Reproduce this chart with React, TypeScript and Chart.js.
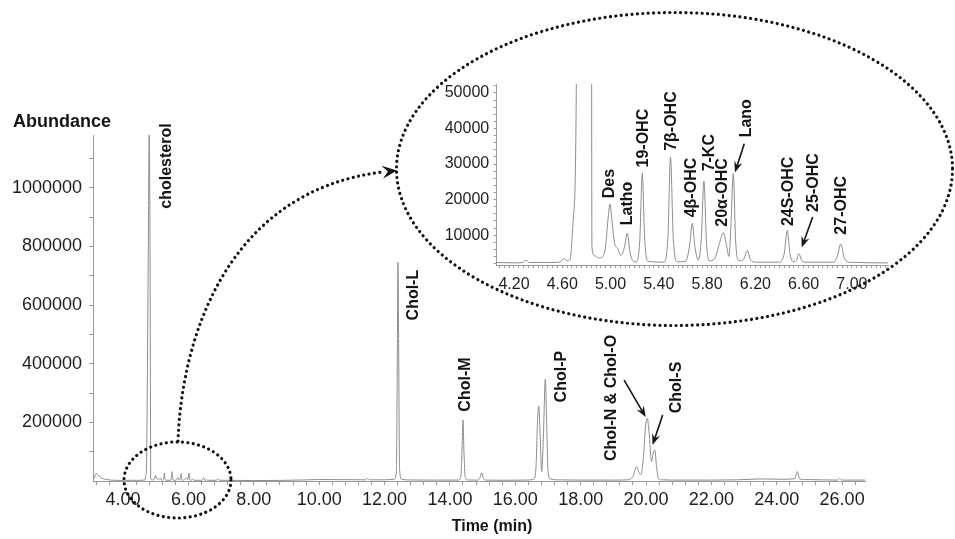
import React, { useEffect, useRef } from 'react';
import { Chart, registerables } from 'chart.js';

Chart.register(...registerables);

const FONT = '"Liberation Sans", Arial, Helvetica, sans-serif';

type Pt = [number, number];

// ---- chromatogram trace: [retention time (min), abundance] ----
const solventFront: Pt[] = [
  [3.08, 3000], [3.13, 14000], [3.18, 26000], [3.25, 19000], [3.35, 10000],
  [3.5, 5000], [3.7, 2500], [3.9, 2000],
];

const sterolRegion: Pt[] = [
  [4.05, 2300], [4.2, 2200], [4.27, 2300], [4.297, 2900], [4.33, 2300], [4.5, 2300],
  [4.58, 2400], [4.617, 3400], [4.64, 2800], [4.665, 3200], [4.69, 14000], [4.715, 45000],
  [4.74, 300000], [4.77, 760000], [4.8, 1180000], [4.825, 800000], [4.84, 200000],
  [4.846, 6600], [4.87, 4200], [4.9, 3600], [4.93, 3800], [4.96, 7000], [4.978, 14000],
  [4.995, 18700], [5.012, 14000], [5.035, 7500], [5.058, 6300], [5.085, 4300],
  [5.115, 6500], [5.139, 10600], [5.16, 5500], [5.19, 2600], [5.215, 2500], [5.243, 9000],
  [5.263, 27400], [5.283, 9000], [5.31, 2600], [5.44, 2400], [5.475, 9000], [5.497, 31900],
  [5.52, 9000], [5.555, 2500], [5.62, 2600], [5.655, 7000], [5.677, 13300], [5.7, 6500],
  [5.728, 3000], [5.752, 9000], [5.774, 25200], [5.795, 8000], [5.818, 2800], [5.86, 3200],
  [5.905, 8000], [5.934, 10700], [5.962, 7000], [5.981, 4000], [5.998, 13000], [6.017, 27300],
  [6.037, 8000], [6.065, 2800], [6.105, 3300], [6.133, 5700], [6.16, 3000], [6.2, 2400],
  [6.4, 2400], [6.44, 5000], [6.464, 11300], [6.488, 4500], [6.515, 2500], [6.54, 2800],
  [6.561, 4800], [6.585, 2800], [6.62, 2400], [6.85, 2400], [6.88, 4200], [6.907, 7500],
  [6.935, 3800], [6.97, 2400], [7.3, 2200],
];

const midBaseline: Pt[] = [
  [7.5, 2000], [8.0, 1500], [8.8, 2000], [9.5, 3500], [10.0, 5000], [10.8, 4500],
  [11.42, 4000], [11.48, 9000], [11.54, 4000], [12.0, 4000],
];

const cholLRegion: Pt[] = [
  [12.3, 6000], [12.36, 30000], [12.39, 400000], [12.41, 746000], [12.43, 500000],
  [12.46, 40000], [12.52, 6000], [12.8, 3500], [13.5, 3000],
];

const cholMRegion: Pt[] = [
  [14.25, 3000], [14.33, 12000], [14.37, 100000], [14.4, 208000], [14.43, 100000],
  [14.47, 12000], [14.55, 3500], [14.85, 3000], [14.92, 11000], [14.97, 28000],
  [15.02, 11000], [15.1, 3000], [15.6, 2500],
];

const cholPRegion: Pt[] = [
  [16.3, 3000], [16.55, 5000], [16.63, 40000], [16.68, 200000], [16.72, 256000],
  [16.76, 160000], [16.81, 32000], [16.86, 150000], [16.92, 348000], [16.96, 200000],
  [17.0, 40000], [17.06, 8000], [17.3, 4000], [18.0, 3000], [19.0, 3000],
];

const cholNOSRegion: Pt[] = [
  [19.45, 4000], [19.6, 15000], [19.71, 49000], [19.79, 28000], [19.84, 21000],
  [19.92, 80000], [19.98, 180000], [20.04, 214000], [20.09, 170000], [20.17, 66000],
  [20.22, 95000], [20.27, 106000], [20.32, 50000], [20.38, 8000], [20.5, 4000],
];

const lateBaseline: Pt[] = [
  [21.0, 3000], [22.0, 3000], [22.8, 4000], [23.5, 7000], [24.2, 6000], [24.55, 8000],
  [24.63, 32000], [24.7, 8000], [24.85, 5000], [25.4, 4000], [25.85, 3000], [25.93, 9000],
  [26.0, 3000], [26.7, 3000],
];

// ---- axes ----
const mainXRange: Pt = [3.08, 26.7];
const mainYRange: Pt = [0, 1180000];
const mainXTickLabels = [4, 6, 8, 10, 12, 14, 16, 18, 20, 22, 24, 26];
const mainYTickLabels = [200000, 400000, 600000, 800000, 1000000];
const mainXMinor = { from: 3.2, to: 26.4, step: 0.4 };
const mainYMinor = { from: 100000, to: 1100000, step: 100000 };

const insetXRange: Pt = [4.057, 7.299];
const insetYRange: Pt = [1600, 52500];
const insetXTickLabels = [4.2, 4.6, 5.0, 5.4, 5.8, 6.2, 6.6, 7.0];
const insetYTickLabels = [10000, 20000, 30000, 40000, 50000];
const insetXMinor = { from: 4.08, to: 7.28, step: 0.04 };
const insetYMinor = { from: 2000, to: 52000, step: 2000 };

// ---- annotations (label centre in data coordinates) ----
const mainPeakLabels = [
  { text: 'cholesterol', time: 5.34, abundance: 1074000 },
  { text: 'Chol-L', time: 12.9, abundance: 634000 },
  { text: 'Chol-M', time: 14.48, abundance: 329000 },
  { text: 'Chol-P', time: 17.41, abundance: 356000 },
  { text: 'Chol-N & Chol-O', time: 18.94, abundance: 283000 },
  { text: 'Chol-S', time: 20.95, abundance: 319000 },
];
const mainPeakArrows = [
  { from: [19.33, 344000], to: [19.99, 218000] },
  { from: [20.51, 225000], to: [20.2, 123000] },
];

const insetPeakLabels = [
  { text: 'Des', time: 4.996, abundance: 24500 },
  { text: 'Latho', time: 5.145, abundance: 18900 },
  { text: '19-OHC', time: 5.273, abundance: 37300 },
  { text: '7β-OHC', time: 5.509, abundance: 42100 },
  { text: '4β-OHC', time: 5.675, abundance: 23400 },
  { text: '7-KC', time: 5.824, abundance: 33200 },
  { text: '20α-OHC', time: 5.932, abundance: 22000 },
  { text: 'Lano', time: 6.131, abundance: 42900 },
  { text: '24S-OHC', time: 6.479, abundance: 22300 },
  { text: '25-OHC', time: 6.686, abundance: 24800 },
  { text: '27-OHC', time: 6.918, abundance: 18400 },
];
const insetPeakArrows = [
  { from: [6.108, 35750], to: [6.031, 27650] },
  { from: [6.675, 15090], to: [6.584, 6540] },
];

const trace: Pt[] = [
  ...solventFront, ...sterolRegion, ...midBaseline, ...cholLRegion, ...cholMRegion,
  ...cholPRegion, ...cholNOSRegion, ...lateBaseline,
];

function minorTicks(m: { from: number; to: number; step: number }) {
  const out: number[] = [];
  const n = Math.round((m.to - m.from) / m.step);
  for (let i = 0; i <= n; i++) out.push(Math.round((m.from + i * m.step) * 10000) / 10000);
  return out;
}

function isLabel(list: number[], v: number) {
  return list.some((l) => Math.abs(l - v) < 1e-6 * Math.max(1, Math.abs(l)));
}

function drawArrow(ctx: CanvasRenderingContext2D, x1: number, y1: number, x2: number, y2: number, len = 11, half = 4.2) {
  const a = Math.atan2(y2 - y1, x2 - x1);
  const c = Math.cos(a);
  const s = Math.sin(a);
  ctx.beginPath();
  ctx.moveTo(x1, y1);
  ctx.lineTo(x2 - c * len * 0.6, y2 - s * len * 0.6);
  ctx.stroke();
  ctx.beginPath();
  ctx.moveTo(x2, y2);
  ctx.lineTo(x2 - len * c + half * s, y2 - len * s - half * c);
  ctx.lineTo(x2 - 0.65 * len * c, y2 - 0.65 * len * s);
  ctx.lineTo(x2 - len * c - half * s, y2 - len * s + half * c);
  ctx.closePath();
  ctx.fill();
}

function drawVerticalText(ctx: CanvasRenderingContext2D, text: string, x: number, y: number) {
  ctx.save();
  ctx.translate(x, y);
  ctx.rotate(-Math.PI / 2);
  ctx.textAlign = 'center';
  ctx.textBaseline = 'middle';
  ctx.fillText(text, 0, 0);
  ctx.restore();
}

function setDotted(ctx: CanvasRenderingContext2D) {
  ctx.setLineDash([0.01, 5.4]);
  ctx.lineCap = 'round';
  ctx.lineWidth = 3.2;
  ctx.strokeStyle = '#111';
}

const mainDecor = {
  id: 'mainDecor',
  afterDraw(chart: any) {
    const { ctx, scales } = chart;
    const xs = scales.x;
    const ys = scales.y;
    ctx.save();
    ctx.fillStyle = '#151515';
    ctx.strokeStyle = '#151515';
    ctx.font = `bold 16px ${FONT}`;
    mainPeakLabels.forEach((l) => drawVerticalText(ctx, l.text, xs.getPixelForValue(l.time), ys.getPixelForValue(l.abundance)));
    ctx.lineWidth = 1.6;
    mainPeakArrows.forEach((a) =>
      drawArrow(ctx, xs.getPixelForValue(a.from[0]), ys.getPixelForValue(a.from[1]), xs.getPixelForValue(a.to[0]), ys.getPixelForValue(a.to[1]))
    );
    // axis titles
    ctx.font = `bold 18px ${FONT}`;
    ctx.textAlign = 'left';
    ctx.textBaseline = 'alphabetic';
    ctx.fillText('Abundance', 13, 126.5);
    ctx.font = `bold 16px ${FONT}`;
    ctx.textAlign = 'center';
    ctx.fillText('Time (min)', 492, 531);

    // dotted ellipses and connector
    setDotted(ctx);
    ctx.beginPath();
    ctx.ellipse(674.5, 169, 278, 156.5, 0, 0, Math.PI * 2);
    ctx.stroke();
    ctx.beginPath();
    ctx.ellipse(177.5, 480, 53.5, 38, 0, 0, Math.PI * 2);
    ctx.stroke();
    ctx.beginPath();
    ctx.moveTo(178, 441);
    ctx.bezierCurveTo(182, 330, 232, 190, 383, 172);
    ctx.stroke();
    ctx.setLineDash([]);
    ctx.fillStyle = '#111';
    const tipX = 397;
    const tipY = 170.5;
    const a = Math.atan2(172 - 190, 383 - 232);
    const c = Math.cos(a);
    const s = Math.sin(a);
    const len = 15;
    const half = 6.5;
    ctx.beginPath();
    ctx.moveTo(tipX, tipY);
    ctx.lineTo(tipX - len * c + half * s, tipY - len * s - half * c);
    ctx.lineTo(tipX - 0.6 * len * c, tipY - 0.6 * len * s);
    ctx.lineTo(tipX - len * c - half * s, tipY - len * s + half * c);
    ctx.closePath();
    ctx.fill();
    ctx.restore();
  },
};

const insetDecor = {
  id: 'insetDecor',
  afterDraw(chart: any) {
    const { ctx, scales } = chart;
    const xs = scales.x;
    const ys = scales.y;
    ctx.save();
    ctx.fillStyle = '#151515';
    ctx.strokeStyle = '#151515';
    ctx.font = `bold 16px ${FONT}`;
    insetPeakLabels.forEach((l) => drawVerticalText(ctx, l.text, xs.getPixelForValue(l.time), ys.getPixelForValue(l.abundance)));
    ctx.lineWidth = 1.6;
    insetPeakArrows.forEach((a) =>
      drawArrow(ctx, xs.getPixelForValue(a.from[0]), ys.getPixelForValue(a.from[1]), xs.getPixelForValue(a.to[0]), ys.getPixelForValue(a.to[1]))
    );
    ctx.restore();
  },
};

function axis(opts: {
  range: Pt; labels: number[]; minor: { from: number; to: number; step: number };
  fmt: (v: number) => string; size: number; fit: (s: any) => void; tickLength: number; padding: number;
}) {
  const tickValues = minorTicks(opts.minor);
  return {
    type: 'linear' as const,
    min: opts.range[0],
    max: opts.range[1],
    afterBuildTicks: (s: any) => {
      s.ticks = tickValues.map((v) => ({ value: v }));
    },
    afterFit: opts.fit,
    ticks: {
      autoSkip: false,
      maxRotation: 0,
      minRotation: 0,
      padding: opts.padding,
      color: '#1e1e1e',
      font: { family: FONT, size: opts.size },
      callback: (v: any) => (isLabel(opts.labels, Number(v)) ? opts.fmt(Number(v)) : ''),
    },
    grid: { drawOnChartArea: false, drawTicks: true, tickLength: opts.tickLength, color: '#9a9a9a', lineWidth: 1 },
    border: { display: true, color: '#9a9a9a', width: 1 },
  };
}

function traceDataset() {
  return {
    data: trace.map(([x, y]) => ({ x, y })),
    borderColor: '#8c8c8c',
    borderWidth: 1,
    pointRadius: 0,
    fill: false,
    cubicInterpolationMode: 'monotone' as const,
  };
}

export default function App() {
  const mainRef = useRef<HTMLCanvasElement>(null);
  const insetRef = useRef<HTMLCanvasElement>(null);

  useEffect(() => {
    const main = new Chart(mainRef.current!, {
      type: 'line',
      data: { datasets: [traceDataset()] },
      options: {
        animation: false,
        responsive: false,
        maintainAspectRatio: false,
        layout: { padding: { left: 0, right: 90, top: 135, bottom: 0 } },
        plugins: { legend: { display: false }, tooltip: { enabled: false } },
        scales: {
          x: axis({ range: mainXRange, labels: mainXTickLabels, minor: mainXMinor, fmt: (v) => v.toFixed(2), size: 18, fit: (s) => { s.height = 58; }, tickLength: 4, padding: 4 }),
          y: axis({ range: mainYRange, labels: mainYTickLabels, minor: mainYMinor, fmt: (v) => String(Math.round(v)), size: 18, fit: (s) => { s.width = 93; }, tickLength: 4, padding: 7 }),
        },
      } as any,
      plugins: [mainDecor],
    });
    const inset = new Chart(insetRef.current!, {
      type: 'line',
      data: { datasets: [traceDataset()] },
      options: {
        animation: false,
        responsive: false,
        maintainAspectRatio: false,
        layout: { padding: { left: 0, right: 12, top: 12.7, bottom: 0 } },
        plugins: { legend: { display: false }, tooltip: { enabled: false } },
        scales: {
          x: axis({ range: insetXRange, labels: insetXTickLabels, minor: insetXMinor, fmt: (v) => v.toFixed(2), size: 16, fit: (s) => { s.height = 35; }, tickLength: 3, padding: 7 }),
          y: axis({ range: insetYRange, labels: insetYTickLabels, minor: insetYMinor, fmt: (v) => String(Math.round(v)), size: 16, fit: (s) => { s.width = 76.7; }, tickLength: 3, padding: 4.5 }),
        },
      } as any,
      plugins: [insetDecor],
    });
    return () => {
      main.destroy();
      inset.destroy();
    };
  }, []);

  return (
    <div style={{ position: 'fixed', left: 0, top: 0, width: 955, height: 539, background: '#fff', overflow: 'hidden' }}>
      <canvas ref={mainRef} width={955} height={539} style={{ position: 'absolute', left: 0, top: 0, width: 955, height: 539 }} />
      <canvas ref={insetRef} width={480} height={230} style={{ position: 'absolute', left: 420, top: 70, width: 480, height: 230 }} />
    </div>
  );
}
